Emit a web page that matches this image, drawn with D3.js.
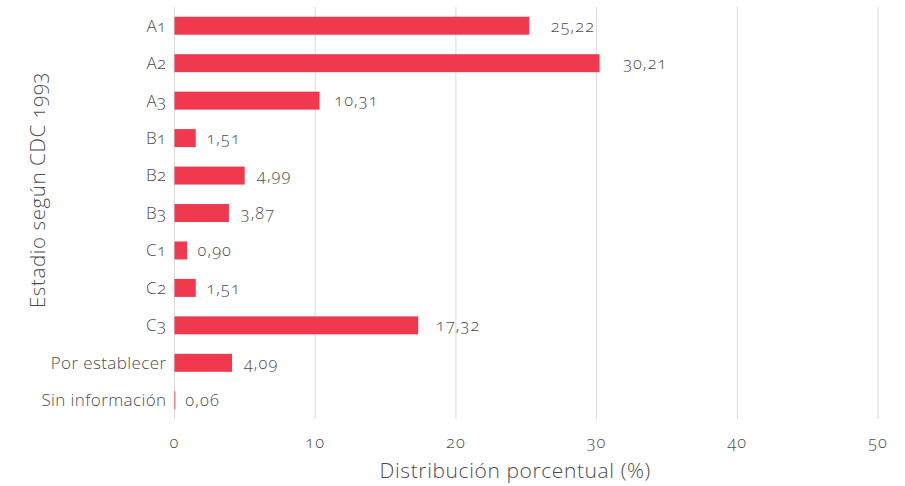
<!DOCTYPE html>
<html>
<head>
<meta charset="utf-8">
<script src="https://cdn.jsdelivr.net/npm/d3@7"></script>
<style>
  body { margin: 0; background: #fff; }
  text { font-family: "Open Sans", Lato, sans-serif; font-weight: 300; font-variant-numeric: oldstyle-nums; fill: #4d4d4d; }
</style>
</head>
<body>
<div id="chart"></div>
<script>
// data
const categories = ["A1", "A2", "A3", "B1", "B2", "B3", "C1", "C2", "C3", "Por establecer", "Sin información"];
const values = [25.22, 30.21, 10.31, 1.51, 4.99, 3.87, 0.90, 1.51, 17.32, 4.09, 0.06];
const xTicks = [0, 10, 20, 30, 40, 50];

const W = 905, H = 486;
const margin = {top: 7, right: 27, bottom: 67, left: 174.5};
const width = W - margin.left - margin.right,
      height = H - margin.top - margin.bottom;

const svg = d3.select("#chart")
  .append("svg")
    .attr("width", W)
    .attr("height", H)
  .append("g")
    .attr("transform", "translate(" + margin.left + "," + margin.top + ")");

const x = d3.scaleLinear().domain([0, 50]).range([0, width]);
const y = d3.scaleBand().domain(categories).range([0, height]).paddingInner(0.52).paddingOuter(0.26);

const fmt = v => d3.format(".2f")(v).replace(".", ",");

// gridlines
svg.append("g")
  .selectAll("line")
  .data(xTicks)
  .enter()
  .append("line")
    .attr("x1", d => x(d)).attr("x2", d => x(d))
    .attr("y1", 0).attr("y2", height)
    .attr("stroke", "#d9d9d9")
    .attr("stroke-width", 1);

// bars
svg.append("g")
  .selectAll("rect")
  .data(values)
  .enter()
  .append("rect")
    .attr("x", 0)
    .attr("y", (d, i) => y(categories[i]))
    .attr("width", d => x(d))
    .attr("height", y.bandwidth())
    .attr("fill", "#f0394f");

// value labels
svg.append("g")
  .selectAll("text")
  .data(values)
  .enter()
  .append("text")
    .attr("x", d => x(d) + 10 + d * 0.45)
    .attr("y", (d, i) => y(categories[i]) + y.bandwidth() / 2)
    .attr("dy", "0.35em")
    .style("font-size", "16.5px")
    .style("letter-spacing", "1.1px")
    .text(d => fmt(d));

// category labels
svg.append("g")
  .selectAll("text")
  .data(categories)
  .enter()
  .append("text")
    .attr("x", -8)
    .attr("y", d => y(d) + y.bandwidth() / 2)
    .attr("dy", "0.35em")
    .attr("text-anchor", "end")
    .style("font-size", "17px")
    .style("letter-spacing", "0.4px")
    .text(d => d);

// x tick labels
svg.append("g")
  .selectAll("text")
  .data(xTicks)
  .enter()
  .append("text")
    .attr("x", d => x(d))
    .attr("y", height + 23)
    .attr("dy", "0.35em")
    .attr("text-anchor", "middle")
    .style("font-size", "16.5px")
    .style("letter-spacing", "1px")
    .text(d => d);

// axis titles
svg.append("text")
  .attr("x", width / 2 - 11)
  .attr("y", height + 52)
  .attr("dy", "0.35em")
  .attr("text-anchor", "middle")
  .style("font-size", "21px")
  .style("letter-spacing", "0.6px")
  .text("Distribución porcentual (%)");

svg.append("text")
  .attr("transform", "translate(" + (38 - margin.left) + "," + (190 - margin.top) + ") rotate(-90)")
  .attr("dy", "0.35em")
  .attr("text-anchor", "middle")
  .style("font-size", "20.5px")
  .style("letter-spacing", "0.6px")
  .text("Estadio según CDC 1993");
</script>
</body>
</html>
